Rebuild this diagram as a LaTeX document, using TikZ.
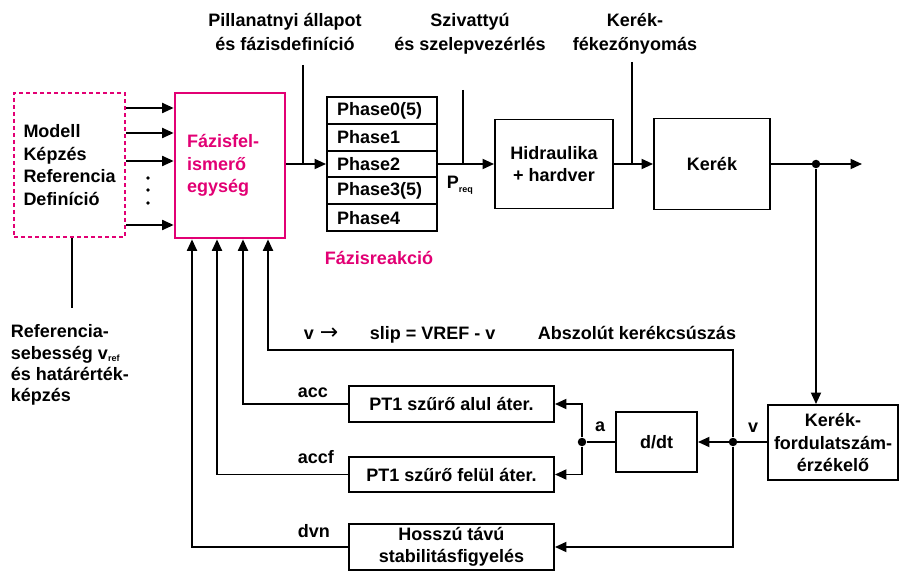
\documentclass[tikz,border=0pt]{standalone}
\usepackage{fontspec}
\setmainfont{Liberation Sans}
\newfontfamily\symfont{DejaVu Sans}
\usetikzlibrary{arrows.meta, calc}

\definecolor{tmagenta}{RGB}{226,0,116}

\begin{document}
\begin{tikzpicture}[
    x=1pt, y=-1pt,
    >={Triangle[length=11.5pt, width=10pt]},
    line width=1.9pt,
    every node/.style={font=\fontsize{18}{22.5}\selectfont\bfseries, inner sep=0pt},
    block/.style={draw, align=center},
    phasebox/.style={draw, minimum width=110pt, minimum height=26.8pt, text width=90pt, align=left},
    jdot/.style={circle, fill, minimum size=8.5pt},
    toplbl/.style={align=center, font=\fontsize{18}{23.5}\selectfont\bfseries}
]

\useasboundingbox (0,0) rectangle (900,572);

% --- Model / reference block and phase recognition unit ---
\node[draw=tmagenta, dash pattern=on 4pt off 3pt, line width=2.3pt,
      minimum width=111pt, minimum height=144pt, text width=92pt, align=left]
    (model) at (69.5,165) {Modell\\Képzés\\Referencia\\Definíció};
\node[draw=tmagenta, line width=2.7pt, text=tmagenta,
      minimum width=110pt, minimum height=145pt, text width=86pt, align=left]
    (fazis) at (230,165.5) {Fázisfel-\\ismerő\\egység};

\foreach \y in {108,133,161,225}
    \draw[->] (model.east |- 0,\y) -- (fazis.west |- 0,\y);
\foreach \y in {178,190,203}
    \fill (148,\y) circle (1.8pt);

% reference speed input
\coordinate (refend) at (72,308);
\draw (model.south -| refend) -- (refend);
\node[anchor=north west, align=left, font=\fontsize{18}{21.3}\selectfont\bfseries]
    (reftxt) at (10,324) {Referencia-\\sebesség v\raisebox{-2pt}{\fontsize{9}{9}\selectfont ref}\\és határérték-\\képzés};

% --- Phase table ---
\foreach \lbl [count=\i from 0] in {Phase0(5),Phase1,Phase2,Phase3(5),Phase4}
    \node[phasebox] (ph\i) at (382,{110.4+26.8*\i}) {\lbl};
\node[text=tmagenta] (lblreact) at (379,258) {Fázisreakció};

% --- Forward path ---
\node[block, minimum width=118pt, minimum height=89pt] (hydr) at (554,164) {Hidraulika\\+ hardver};
\node[block, minimum width=116pt, minimum height=91pt] (kerek) at (712,164) {Kerék};
\node[jdot] (vdot) at (816,164) {};
\coordinate (out) at (862,164);

\draw[->] (fazis.east |- ph2.west) -- (ph2.west);
\draw[->] (ph2.east) -- (hydr.west);
\draw[->] (hydr.east) -- (kerek.west);
\draw[->] (kerek.east) -- (out);
\node[anchor=west] (preq) at (446,185) {P\raisebox{-4pt}{\fontsize{9}{9}\selectfont req}};

% --- Top inputs ---
\node[toplbl] (lblstate) at (285,32) {Pillanatnyi állapot\\és fázisdefiníció};
\node[toplbl] (lblpump) at (470,34) {Szivattyú\\és szelepvezérlés};
\node[toplbl] (lblbrake) at (635,34) {Kerék-\\fékezőnyomás};
\coordinate (statein) at (303,65);
\coordinate (pumpin) at (463,90);
\coordinate (brakein) at (632,62);
\draw (statein) -- (statein |- ph2.west);
\draw (pumpin) -- (pumpin |- hydr.west);
\draw (brakein) -- (brakein |- kerek.west);

% --- Feedback path ---
\node[block, minimum width=130pt, minimum height=75pt] (sensor) at (833,442.5) {Kerék-\\fordulatszám-\\érzékelő};
\node[block, minimum width=81pt, minimum height=60pt] (ddt) at (656.5,442) {d/dt};
\node[jdot] (vjun) at (733,442) {};
\node[jdot] (adot) at (582,442) {};
\node[block, minimum width=205pt, minimum height=36pt] (ptlow) at (451.5,404) {PT1 szűrő alul áter.};
\node[block, minimum width=205pt, minimum height=35pt] (pthigh) at (451.5,474.5) {PT1 szűrő felül áter.};
\node[block, minimum width=205pt, minimum height=46pt] (longterm) at (451.5,547) {Hosszú távú\\stabilitásfigyelés};

\draw[->] (vdot) -- (sensor.north -| vdot);
\draw[->] (sensor.west |- ddt.east) -- (ddt.east);
\draw (ddt.west) -- (adot);
\draw[->] (adot) |- (ptlow.east);
\draw[->] (adot) |- (pthigh.east);

% inputs at the bottom of the recognition unit
\path (fazis.south) ++(-38,0) coordinate (inD) ++(25,0) coordinate (inC)
    ++(26,0) coordinate (inB) ++(25,0) coordinate (inA);
\draw[->] (vjun) -- (vjun |- 0,350) -| (inA);
\draw[->] (vjun) |- (longterm.east);
\draw[->] (ptlow.west) -| (inB);
\draw[->] (pthigh.west) -| (inC);
\draw[->] (longterm.west) -| (inD);

% --- Labels ---
\node[anchor=base] (lblspeed) at (753,432) {v};
\node[anchor=base] (lbla) at (600,431) {a};
\node[anchor=base west] (lblacc) at (297,397) {acc};
\node[anchor=base west] (lblaccf) at (297,463) {accf};
\node[anchor=base west] (lbldvn) at (297,537) {dvn};
\node[anchor=base] (lblv) at (309,339) {v};
\node[anchor=base west] (lblto) at (319,339) {\symfont\mdseries\fontsize{22}{22}\selectfont →};
\node[anchor=base west] (lblslip) at (369,339) {slip = VREF - v};
\node[anchor=base west] (lblabs) at (537,339) {Abszolút kerékcsúszás};

\end{tikzpicture}
\end{document}
